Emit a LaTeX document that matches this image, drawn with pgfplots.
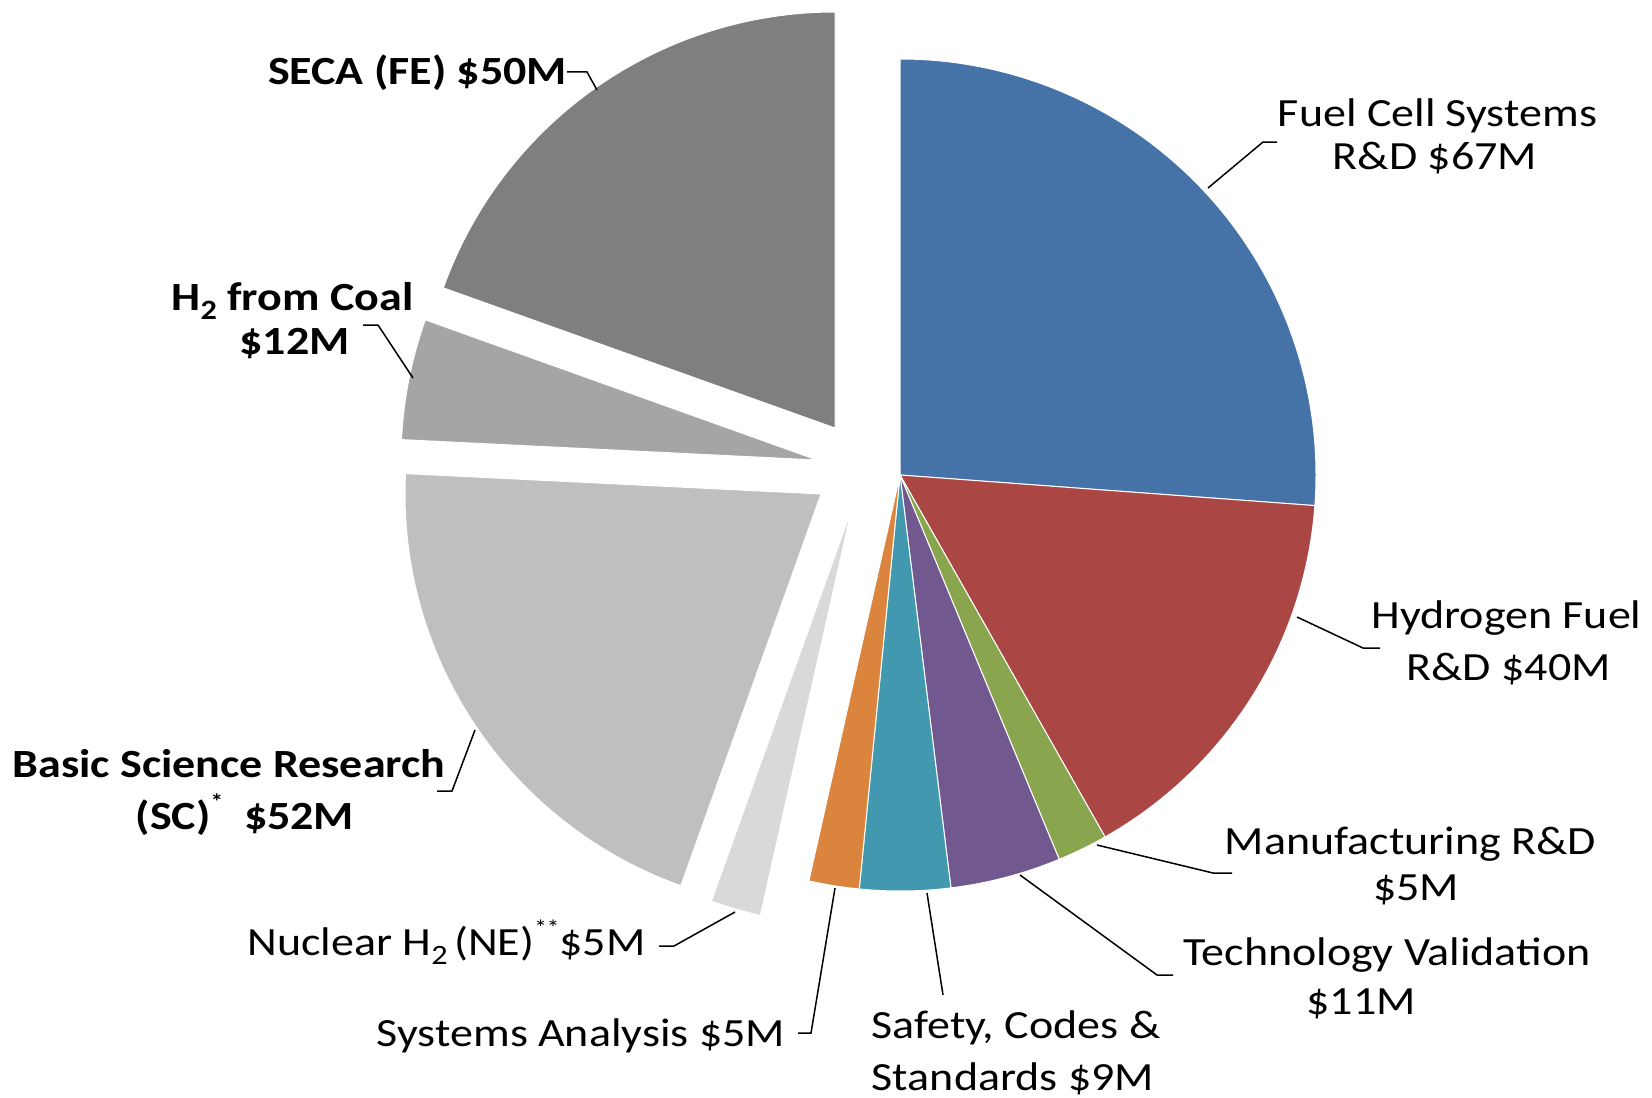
\documentclass[border=0pt]{standalone}
\usepackage{fontspec}
\setmainfont{Carlito}[FakeStretch=1.15]
\usepackage{pgfplots}
\pgfplotsset{compat=1.18}
\definecolor{cFC}{HTML}{4572A7}
\definecolor{cHF}{HTML}{AA4643}
\definecolor{cMF}{HTML}{89A54E}
\definecolor{cTV}{HTML}{71588F}
\definecolor{cSC}{HTML}{4198AF}
\definecolor{cSA}{HTML}{DB843D}
\definecolor{cNU}{HTML}{D9D9D9}
\definecolor{cBS}{HTML}{BFBFBF}
\definecolor{cCO}{HTML}{A5A5A5}
\definecolor{cSE}{HTML}{7F7F7F}
\newcommand{\sub}[1]{\raisebox{-0.5ex}{\fontsize{14}{14}\selectfont #1}}
\newcommand{\sups}[1]{\raisebox{1.0ex}{\fontsize{11}{11}\selectfont #1}}
\begin{document}
\begin{tikzpicture}
% budget values ($M), total 256, clockwise from 12 o'clock
\pgfmathsetmacro\aA{90}
\pgfmathsetmacro\aB{\aA-67/256*360}% Fuel Cell Systems R&D
\pgfmathsetmacro\aC{\aB-40/256*360}% Hydrogen Fuel R&D
\pgfmathsetmacro\aD{\aC-5/256*360}% Manufacturing R&D
\pgfmathsetmacro\aE{\aD-11/256*360}% Technology Validation
\pgfmathsetmacro\aF{\aE-9/256*360}% Safety, Codes & Standards
\pgfmathsetmacro\aG{\aF-5/256*360}% Systems Analysis
\pgfmathsetmacro\aH{\aG-5/256*360}% Nuclear H2
\pgfmathsetmacro\aI{\aH-52/256*360}% Basic Science
\pgfmathsetmacro\aJ{\aI-12/256*360}% H2 from Coal
\pgfmathsetmacro\aK{\aJ-50/256*360}% SECA
\def\R{208pt}
\begin{axis}[scale only axis, width=826pt, height=548.5pt,
  xmin=0, xmax=1652, ymin=0, ymax=1097, y dir=reverse,
  hide axis, clip=false]
\addplot[draw=none] coordinates {(0,0) (1652,1097)};
\tikzset{sl/.style={draw=white, line width=0.5pt}}
\fill[cFC,sl] (axis cs:900,475) -- ++(\aA:\R) arc[start angle=\aA, end angle=\aB, radius=\R] -- cycle;
\fill[cHF,sl] (axis cs:900,475) -- ++(\aB:\R) arc[start angle=\aB, end angle=\aC, radius=\R] -- cycle;
\fill[cMF,sl] (axis cs:900,475) -- ++(\aC:\R) arc[start angle=\aC, end angle=\aD, radius=\R] -- cycle;
\fill[cTV,sl] (axis cs:900,475) -- ++(\aD:\R) arc[start angle=\aD, end angle=\aE, radius=\R] -- cycle;
\fill[cSC,sl] (axis cs:900,475) -- ++(\aE:\R) arc[start angle=\aE, end angle=\aF, radius=\R] -- cycle;
\fill[cSA,sl] (axis cs:900,475) -- ++(\aF:\R) arc[start angle=\aF, end angle=\aG, radius=\R] -- cycle;
\fill[cNU,sl] (axis cs:851.5,509.5) -- ++(\aG:\R) arc[start angle=\aG, end angle=\aH, radius=\R] -- cycle;
\fill[cBS,sl] (axis cs:821,494) -- ++(\aH:\R) arc[start angle=\aH, end angle=\aI, radius=\R] -- cycle;
\fill[cCO,sl] (axis cs:817,460) -- ++(\aI:\R) arc[start angle=\aI, end angle=\aJ, radius=\R] -- cycle;
\fill[cSE,sl] (axis cs:835,428) -- ++(\aJ:\R) arc[start angle=\aJ, end angle=\aK, radius=\R] -- cycle;
% leader lines
\tikzset{ld/.style={draw=black, line width=0.75pt}}
\draw[ld] (axis cs:567,72) -- (axis cs:587,72) -- (axis cs:597,90);
\draw[ld] (axis cs:1277,142) -- (axis cs:1263,142) -- (axis cs:1208,188);
\draw[ld] (axis cs:1380,648) -- (axis cs:1363,648) -- (axis cs:1297,617);
\draw[ld] (axis cs:1232,873) -- (axis cs:1213,873) -- (axis cs:1097,845);
\draw[ld] (axis cs:1173,975) -- (axis cs:1157,975) -- (axis cs:1020,875);
\draw[ld] (axis cs:943,995) -- (axis cs:927,893);
\draw[ld] (axis cs:798,1033) -- (axis cs:811,1033) -- (axis cs:835,888);
\draw[ld] (axis cs:659,946) -- (axis cs:674,946) -- (axis cs:735,912);
\draw[ld] (axis cs:437,791) -- (axis cs:452,791) -- (axis cs:475,730);
\draw[ld] (axis cs:363,325) -- (axis cs:378,325) -- (axis cs:413,378);
% labels
\tikzset{lb/.style={anchor=base, inner sep=0pt, font=\fontsize{20}{22}\selectfont},
  lbb/.style={lb, font=\fontsize{20}{22}\selectfont\bfseries}}
\node[lbb] at (axis cs:417.5,84.5) {SECA (FE) \$50M};
\node[lbb] at (axis cs:292.5,310) {H\sub{2} from Coal};
\node[lbb] at (axis cs:294.5,354) {\$12M};
\node[lbb] at (axis cs:229,777.5) {Basic Science Research};
\node[lbb] at (axis cs:245,829) {(SC)\sups{*}\ \ \$52M};
\node[lb] at (axis cs:446.5,955) {Nuclear H\sub{2}\,(NE)\sups{**}\$5M};
\node[lb] at (axis cs:581,1046) {Systems Analysis \$5M};
\node[lb] at (axis cs:1016,1038) {Safety, Codes \&};
\node[lb] at (axis cs:1013,1090) {Standards \$9M};
\node[lb] at (axis cs:1387,965.5) {Technology Validation};
\node[lb] at (axis cs:1361,1014) {\$11M};
\node[lb] at (axis cs:1410.5,854.5) {Manufacturing R\&D};
\node[lb] at (axis cs:1416,900) {\$5M};
\node[lb] at (axis cs:1437.5,126.5) {Fuel Cell Systems};
\node[lb] at (axis cs:1435,169.5) {R\&D \$67M};
\node[lb] at (axis cs:1506.5,628.5) {Hydrogen Fuel};
\node[lb] at (axis cs:1508.5,680.5) {R\&D \$40M};
\coordinate (BL) at (axis cs:0,1097);
\coordinate (TR) at (axis cs:1652,0);
\end{axis}
\pgfresetboundingbox
\useasboundingbox (BL) rectangle (TR);
\end{tikzpicture}
\end{document}
